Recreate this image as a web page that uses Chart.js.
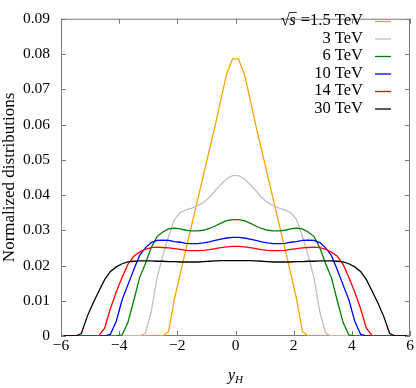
<!DOCTYPE html>
<html lang="en">
<head>
<meta charset="UTF-8">
<title>y_H distributions</title>
<script src="https://cdn.jsdelivr.net/npm/chart.js@4.4.0/dist/chart.umd.min.js"></script>
<style>
  body { margin: 0; background: #fff; }
</style>
</head>
<body>
<canvas id="chart" width="416" height="388"></canvas>
<script>
// bin centres in y_H
const yH = [-5.9, -5.7, -5.5, -5.3, -5.1, -4.9, -4.7, -4.5, -4.3, -4.1,
            -3.9, -3.7, -3.5, -3.3, -3.1, -2.9, -2.7, -2.5, -2.3, -2.1,
            -1.9, -1.7, -1.5, -1.3, -1.1, -0.9, -0.7, -0.5, -0.3, -0.1,
             0.1,  0.3,  0.5,  0.7,  0.9,  1.1,  1.3,  1.5,  1.7,  1.9,
             2.1,  2.3,  2.5,  2.7,  2.9,  3.1,  3.3,  3.5,  3.7,  3.9,
             4.1,  4.3,  4.5,  4.7,  4.9,  5.1,  5.3,  5.5,  5.7,  5.9];

const tev1_5 = [0, 0, 0, 0, 0, 0, 0, 0, 0, 0,
                0, 0, 0, 0, 0, 0, 0, 0, 0.0013, 0.0105,
                0.0177, 0.0247, 0.0317, 0.0387, 0.0457, 0.0527, 0.0597, 0.0672, 0.0745, 0.0786,
                0.0786, 0.0745, 0.0672, 0.0597, 0.0527, 0.0457, 0.0387, 0.0317, 0.0247, 0.0177,
                0.0105, 0.0013, 0, 0, 0, 0, 0, 0, 0, 0,
                0, 0, 0, 0, 0, 0, 0, 0, 0, 0];

const tev3 = [0, 0, 0, 0, 0, 0, 0, 0, 0, 0,
              0, 0, 0, 0, 0.0008, 0.0068, 0.0165, 0.0228, 0.0283, 0.0330,
              0.0350, 0.0358, 0.0363, 0.0370, 0.0379, 0.0393, 0.0412, 0.0430, 0.0446, 0.0455,
              0.0455, 0.0446, 0.0430, 0.0412, 0.0393, 0.0379, 0.0370, 0.0363, 0.0358, 0.0350,
              0.0330, 0.0283, 0.0228, 0.0165, 0.0068, 0.0008, 0, 0, 0, 0,
              0, 0, 0, 0, 0, 0, 0, 0, 0, 0];

const tev6 = [0, 0, 0, 0, 0, 0, 0, 0, 0, 0,
              0.0003, 0.0038, 0.0100, 0.0165, 0.0205, 0.0250, 0.0282, 0.0295, 0.0304, 0.0306,
              0.0304, 0.0300, 0.0298, 0.0298, 0.0300, 0.0305, 0.0312, 0.0320, 0.0327, 0.0330,
              0.0330, 0.0327, 0.0320, 0.0312, 0.0305, 0.0300, 0.0298, 0.0298, 0.0300, 0.0304,
              0.0306, 0.0304, 0.0295, 0.0282, 0.0250, 0.0205, 0.0165, 0.0100, 0.0038, 0.0003,
              0, 0, 0, 0, 0, 0, 0, 0, 0, 0];

const tev10 = [0, 0, 0, 0, 0, 0, 0, 0, 0.0005, 0.0042,
               0.0102, 0.0145, 0.0188, 0.0228, 0.0250, 0.0265, 0.0271, 0.0272, 0.0271, 0.0268,
               0.0266, 0.0263, 0.0262, 0.0262, 0.0264, 0.0267, 0.0271, 0.0275, 0.0278, 0.0280,
               0.0280, 0.0278, 0.0275, 0.0271, 0.0267, 0.0264, 0.0262, 0.0262, 0.0263, 0.0266,
               0.0268, 0.0271, 0.0272, 0.0271, 0.0265, 0.0250, 0.0228, 0.0188, 0.0145, 0.0102,
               0.0042, 0.0005, 0, 0, 0, 0, 0, 0, 0, 0];

const tev14 = [0, 0, 0, 0, 0, 0, 0.0001, 0.0022, 0.0078, 0.0125,
               0.0166, 0.0203, 0.0226, 0.0238, 0.0246, 0.0251, 0.0252, 0.0251, 0.0250, 0.0248,
               0.0246, 0.0243, 0.0242, 0.0242, 0.0243, 0.0245, 0.0248, 0.0251, 0.0253, 0.0254,
               0.0254, 0.0253, 0.0251, 0.0248, 0.0245, 0.0243, 0.0242, 0.0242, 0.0243, 0.0246,
               0.0248, 0.0250, 0.0251, 0.0252, 0.0251, 0.0246, 0.0238, 0.0226, 0.0203, 0.0166,
               0.0125, 0.0078, 0.0022, 0.0001, 0, 0, 0, 0, 0, 0];

const tev30 = [0, 0, 0, 0.0007, 0.0055, 0.0093, 0.0127, 0.0160, 0.0183, 0.0196,
               0.0205, 0.0210, 0.0212, 0.0213, 0.0213, 0.0213, 0.0212, 0.0212, 0.0211, 0.0211,
               0.0210, 0.0210, 0.0210, 0.0210, 0.0211, 0.0212, 0.0213, 0.0214, 0.0214, 0.0214,
               0.0214, 0.0214, 0.0214, 0.0213, 0.0212, 0.0211, 0.0210, 0.0210, 0.0210, 0.0210,
               0.0211, 0.0211, 0.0212, 0.0212, 0.0213, 0.0213, 0.0213, 0.0212, 0.0210, 0.0205,
               0.0196, 0.0183, 0.0160, 0.0127, 0.0093, 0.0055, 0.0007, 0, 0, 0];

const energies = ['1.5 TeV', '3 TeV', '6 TeV', '10 TeV', '14 TeV', '30 TeV'];
const colours = ['#ffa500', '#c0c0c0', '#008000', '#0000ff', '#ff0000', '#000000'];
const series = [tev1_5, tev3, tev6, tev10, tev14, tev30];

const serif = "'Liberation Serif', 'Times New Roman', serif";
const frameColour = '#7a7a7a';

function pts(vals) {
    return yH.map((x, i) => ({ x: x, y: vals[i] }));
}

// frame box + inward ticks, drawn under the curves (gnuplot style)
const frameTicks = {
    id: 'frameTicks',
    beforeDatasetsDraw(chart) {
        const ctx = chart.ctx, a = chart.chartArea;
        const xs = chart.scales.x, ys = chart.scales.y;
        ctx.save();
        ctx.strokeStyle = frameColour;
        ctx.lineWidth = 1;
        ctx.strokeRect(a.left + 0.5, a.top + 0.5, a.right - a.left - 1, a.bottom - a.top - 1);
        ctx.beginPath();
        xs.ticks.forEach(t => {
            const px = Math.round(xs.getPixelForValue(t.value)) + 0.5;
            ctx.moveTo(px, a.bottom); ctx.lineTo(px, a.bottom - 5);
            ctx.moveTo(px, a.top); ctx.lineTo(px, a.top + 5);
        });
        ys.ticks.forEach(t => {
            const py = Math.round(ys.getPixelForValue(t.value)) + 0.5;
            ctx.moveTo(a.left, py); ctx.lineTo(a.left + 5, py);
            ctx.moveTo(a.right, py); ctx.lineTo(a.right - 5, py);
        });
        ctx.stroke();
        ctx.restore();
    }
};

// right-aligned key with line samples, plus the y_H axis label
const keyAndLabel = {
    id: 'keyAndLabel',
    afterDraw(chart) {
        const ctx = chart.ctx, a = chart.chartArea;
        ctx.save();
        ctx.textBaseline = 'middle';
        const textRight = 363, rowTop = 21, rowStep = 17.5;
        const keyFont = '16.5px ' + serif;
        chart.data.datasets.forEach((ds, i) => {
            const y = rowTop + i * rowStep;
            ctx.fillStyle = '#000';
            ctx.textAlign = 'right';
            ctx.font = keyFont;
            if (i === 0) {
                // sqrt(s) =1.5 TeV
                const txt = '=' + ds.label;
                const wEq = ctx.measureText(txt).width;
                ctx.fillText(txt, textRight, y);
                const sRight = textRight - wEq - 5;
                ctx.font = 'italic ' + keyFont;
                const ws = ctx.measureText('s').width;
                ctx.fillText('s', sRight, y);
                ctx.font = keyFont;
                ctx.fillText('\u221a', sRight - ws + 0.5, y);
                ctx.strokeStyle = '#000';
                ctx.lineWidth = 0.8;
                ctx.beginPath();
                ctx.moveTo(sRight - ws, y - 8.5);
                ctx.lineTo(sRight + 1, y - 8.5);
                ctx.stroke();
            } else {
                ctx.fillText(ds.label, textRight, y);
            }
            ctx.strokeStyle = ds.borderColor;
            ctx.lineWidth = 1.3;
            ctx.beginPath();
            ctx.moveTo(375, y + 0.5);
            ctx.lineTo(391, y + 0.5);
            ctx.stroke();
        });

        // x axis title: y_H
        const cx = (a.left + a.right) / 2;
        ctx.fillStyle = '#000';
        ctx.textBaseline = 'alphabetic';
        ctx.textAlign = 'left';
        ctx.font = 'italic 16px ' + serif;
        const wy = ctx.measureText('y').width;
        ctx.font = 'italic 11px ' + serif;
        const wh = ctx.measureText('H').width;
        const x0 = cx - (wy + wh) / 2;
        ctx.font = 'italic 16px ' + serif;
        ctx.fillText('y', x0, 380);
        ctx.font = 'italic 11px ' + serif;
        ctx.fillText('H', x0 + wy, 383);
        ctx.restore();
    }
};

new Chart(document.getElementById('chart'), {
    type: 'line',
    data: {
        datasets: series.map((vals, i) => ({
            label: energies[i],
            data: pts(vals),
            borderColor: colours[i],
            borderWidth: 1.3,
            pointRadius: 0,
            tension: 0,
            fill: false,
            order: series.length - i
        }))
    },
    options: {
        responsive: false,
        animation: false,
        devicePixelRatio: 1,
        layout: { padding: { top: 8, right: 6, left: 0, bottom: 0 } },
        plugins: {
            legend: { display: false },
            tooltip: { enabled: false }
        },
        scales: {
            x: {
                type: 'linear',
                min: -6,
                max: 6,
                grid: { display: false, drawTicks: false },
                border: { display: false },
                ticks: {
                    stepSize: 2,
                    padding: 2,
                    color: '#000',
                    maxRotation: 0,
                    font: { family: serif, size: 15.5, lineHeight: 1 },
                    callback: v => String(v).replace('-', '\u2212')
                },
                afterFit: s => { s.height = 52; }
            },
            y: {
                min: 0,
                max: 0.09,
                grid: { display: false, drawTicks: false },
                border: { display: false },
                ticks: {
                    stepSize: 0.01,
                    padding: 11,
                    color: '#000',
                    font: { family: serif, size: 15.5, lineHeight: 1 },
                    callback: v => (Math.abs(v) < 1e-9 ? '0' : v.toFixed(2))
                },
                title: {
                    display: true,
                    text: 'Normalized distributions',
                    color: '#000',
                    padding: 0,
                    font: { family: serif, size: 17, lineHeight: 1.1 }
                },
                afterFit: s => { s.width = 61; }
            }
        }
    },
    plugins: [frameTicks, keyAndLabel]
});
</script>
</body>
</html>
